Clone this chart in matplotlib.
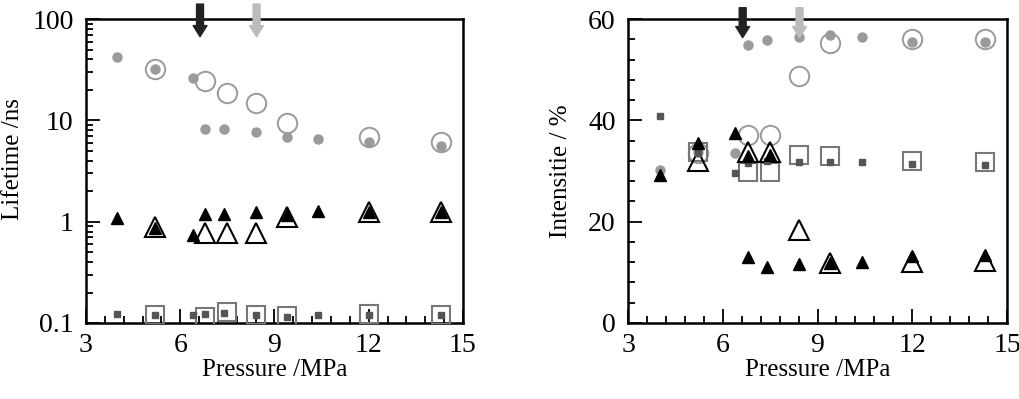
import numpy as np
import matplotlib
matplotlib.use('Agg')
import matplotlib.pyplot as plt
from matplotlib.ticker import MultipleLocator, LogLocator, FixedLocator, NullFormatter

plt.rcParams['font.family'] = ['Liberation Serif', 'DejaVu Serif']

# pressures (MPa)
P_fill = [4.0, 5.2, 6.4, 6.8, 7.4, 8.4, 9.4, 10.4, 12.0, 14.3]
P_open = [5.2, 6.8, 7.5, 8.4, 9.4, 12.0, 14.3]

# lifetimes (ns)
tau_long_fill = [42, 32, 26, 8.2, 8.2, 7.7, 6.9, 6.5, 6.1, 5.6]
tau_long_open = [32, 24.5, 18.6, 14.8, 9.4, 6.9, 6.1]
tau_mid_fill = [1.09, 0.86, 0.74, 1.19, 1.19, 1.24, 1.17, 1.27, 1.24, 1.24]
tau_mid_open = [0.89, 0.77, 0.77, 0.77, 1.12, 1.24, 1.24]
tau_short_fill = [0.122, 0.12, 0.12, 0.122, 0.125, 0.12, 0.115, 0.12, 0.12, 0.12]
tau_short_open = [0.12, 0.115, 0.127, 0.12, 0.118, 0.122, 0.12]

# intensities (%)
I_long_fill = [30.3, 33.8, 33.6, 54.9, 55.9, 56.5, 56.8, 56.4, 55.5, 55.5]
I_long_open = [33.5, 37.1, 37.1, 48.8, 55.3, 56.0, 56.0]
I_mid_fill = [29.2, 35.5, 37.5, 13.0, 11.1, 11.6, 11.8, 12.1, 13.2, 13.4]
I_mid_fill_extra_P = [6.8, 7.5]
I_mid_fill_extra = [33.0, 33.2]
I_mid_open = [32.0, 33.8, 33.8, 18.4, 11.8, 12.1, 12.2]
I_short_fill = [40.9, 33.5, 29.6, 31.5, 32.0, 31.8, 31.7, 31.7, 31.4, 31.2]
I_short_open = [33.8, 29.8, 29.8, 33.2, 33.0, 32.0, 31.8]

# arrow positions (MPa)
arrow_P = [6.63, 8.43]
arrow_col = ['#222222', '#bbbbbb']

fig = plt.figure(figsize=(10.2, 3.99), dpi=100)
ax1 = fig.add_axes([0.0843, 0.1905, 0.3696, 0.7615])
ax2 = fig.add_axes([0.6157, 0.1905, 0.3716, 0.7615])

grey = '#9a9a9a'
dark = '#555555'


def draw(ax, lf, lo, mf, mo, sf, so):
    ax.plot(P_open, lo, 'o', ms=14, mfc='none', mec=grey, mew=1.4, ls='none', zorder=3)
    ax.plot(P_fill, lf, 'o', ms=6.5, mfc=grey, mec=grey, ls='none', zorder=4)
    ax.plot(P_open, so, 's', ms=13, mfc='none', mec='#777777', mew=1.5, ls='none', zorder=3)
    ax.plot(P_fill, sf, 's', ms=5, mfc=dark, mec=dark, ls='none', zorder=4)
    ax.plot(P_open, mo, '^', ms=14, mfc='none', mec='black', mew=1.5, ls='none', zorder=3)
    ax.plot(P_fill, mf, '^', ms=9, mfc='black', mec='black', ls='none', zorder=4)


draw(ax1, tau_long_fill, tau_long_open, tau_mid_fill, tau_mid_open,
     tau_short_fill, tau_short_open)
draw(ax2, I_long_fill, I_long_open, I_mid_fill, I_mid_open,
     I_short_fill, I_short_open)
ax2.plot(I_mid_fill_extra_P, I_mid_fill_extra, '^', ms=9, mfc='black', mec='black',
         ls='none', zorder=4)

ax1.set_yscale('log')
ax1.set_ylim(0.1, 100)
ax1.yaxis.set_major_locator(FixedLocator([0.1, 1, 10, 100]))
ax1.set_yticklabels(['0.1', '1', '10', '100'])
ax1.yaxis.set_minor_locator(LogLocator(base=10, subs=np.arange(2, 10)))
ax1.yaxis.set_minor_formatter(NullFormatter())
ax1.set_ylabel('Lifetime /ns', fontsize=18)
ax1.yaxis.set_label_coords(-0.164, 0.54)

ax2.set_ylim(0, 60)
ax2.yaxis.set_major_locator(MultipleLocator(20))
ax2.yaxis.set_minor_locator(MultipleLocator(4))
ax2.set_ylabel('Intensitie / %', fontsize=18)
ax2.yaxis.set_label_coords(-0.148, 0.5)

for ax in (ax1, ax2):
    ax.set_xlim(3, 15)
    ax.xaxis.set_major_locator(MultipleLocator(3))
    ax.xaxis.set_minor_locator(MultipleLocator(0.6))
    ax.set_xlabel('Pressure /MPa', fontsize=18, labelpad=1)
    ax.tick_params(which='both', direction='in', top=False, right=False,
                   labelsize=20, width=1.3)
    ax.tick_params(which='major', length=10, pad=9)
    ax.tick_params(axis='x', which='major', pad=7)
    ax.tick_params(which='minor', length=5)
    for s in ax.spines.values():
        s.set_linewidth(1.8)

arrow_style = 'simple,head_width=1.0,head_length=0.8,tail_width=0.5'
for p, c in zip(arrow_P, arrow_col):
    ax1.annotate('', xy=(p, 63), xytext=(p, 150), annotation_clip=False,
                 arrowprops=dict(arrowstyle=arrow_style, fc=c, ec=c), zorder=6)
    ax2.annotate('', xy=(p, 55.8), xytext=(p, 62.8), annotation_clip=False,
                 arrowprops=dict(arrowstyle=arrow_style, fc=c, ec=c), zorder=6)

fig.savefig('out.png', dpi=100)
